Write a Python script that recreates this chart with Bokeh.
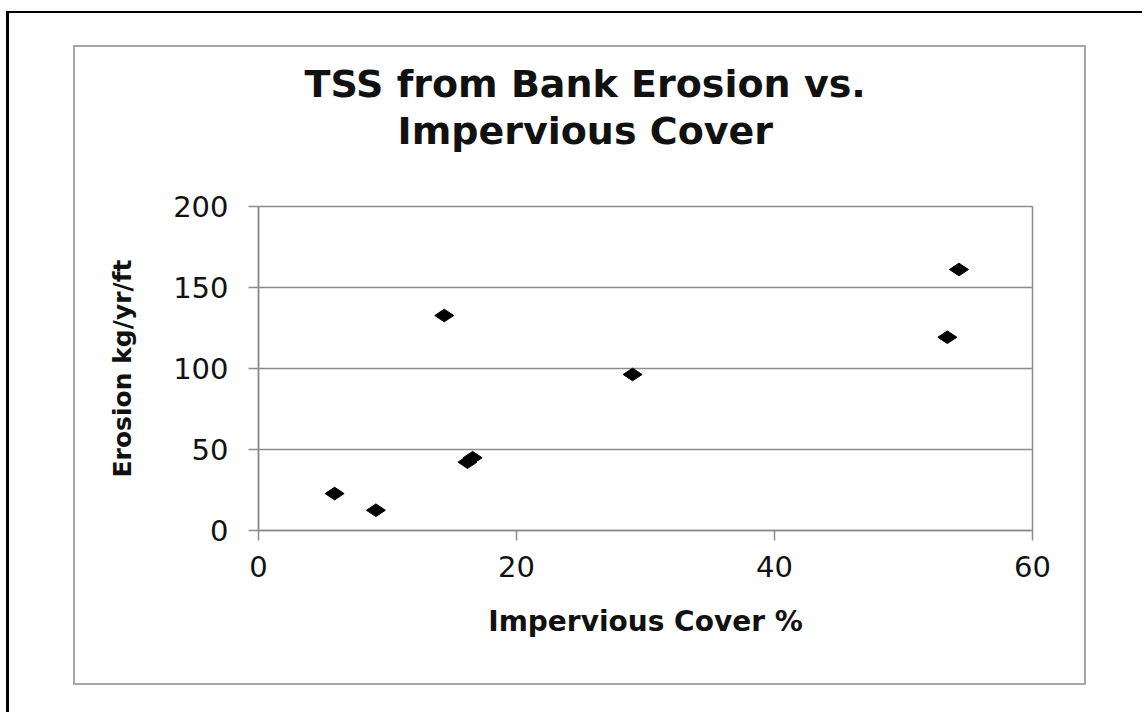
import math
from bokeh.plotting import figure
from bokeh.layouts import column
from bokeh.models import Title, FixedTicker, Range1d
from bokeh.embed import file_html
from bokeh.resources import INLINE

# ---- data ----
impervious_cover = [5.9, 9.1, 14.4, 16.2, 16.6, 29.0, 53.4, 54.3]
erosion = [22.8, 12.5, 132.7, 42.2, 44.9, 96.3, 119.3, 161.1]
x_ticks = [0, 20, 40, 60]
y_ticks = [0, 50, 100, 150, 200]
title_lines = ["TSS from Bank Erosion vs.", "Impervious Cover"]
x_label = "Impervious Cover %"
y_label = "Erosion kg/yr/ft"

GRAY = "#8c8c8c"
TXT = "#111111"

p = figure(width=1009, height=636, output_backend="svg", toolbar_location=None,
           title=None,
           x_range=Range1d(x_ticks[0], x_ticks[-1]),
           y_range=Range1d(y_ticks[0], y_ticks[-1]),
           min_border_left=183, min_border_right=52,
           min_border_top=159, min_border_bottom=153)
p.background_fill_color = "white"
p.border_fill_color = "white"
p.outline_line_color = GRAY
p.outline_line_width = 1.5

p.xaxis.ticker = FixedTicker(ticks=x_ticks)
p.yaxis.ticker = FixedTicker(ticks=y_ticks)
p.xgrid.grid_line_color = None
p.ygrid.ticker = FixedTicker(ticks=y_ticks)
p.ygrid.grid_line_color = GRAY
p.ygrid.grid_line_width = 1.5

for ax in (p.xaxis[0], p.yaxis[0]):
    ax.axis_line_color = GRAY
    ax.axis_line_width = 1.5
    ax.major_tick_line_color = GRAY
    ax.major_tick_line_width = 1.5
    ax.major_tick_out = 10
    ax.major_tick_in = 0
    ax.minor_tick_line_color = None
    ax.major_label_text_font = "DejaVu Sans"
    ax.major_label_text_font_size = "29px"
    ax.major_label_text_color = TXT
    ax.axis_label_text_font = "DejaVu Sans"
    ax.axis_label_text_font_style = "bold"
    ax.axis_label_text_color = TXT

p.xaxis.axis_label = x_label
p.xaxis.axis_label_text_font_size = "28px"
p.xaxis.major_label_standoff = 15
p.xaxis.axis_label_standoff = 25
p.yaxis.axis_label = y_label
p.yaxis.axis_label_text_font_size = "25px"
p.yaxis.major_label_standoff = 20
p.yaxis.axis_label_standoff = 33

p.scatter(impervious_cover, erosion, marker="diamond", size=19,
          angle=math.pi / 2, color="black")

# title: spacer nearest the plot area, then the two lines stacked above it
p.add_layout(Title(text=" ", text_font_size="10px", standoff=40), "above")
for txt, off in zip(reversed(title_lines), [139, 46]):
    p.add_layout(Title(text=txt, align="left", offset=off, standoff=1,
                       vertical_align="bottom",
                       text_font="DejaVu Sans", text_font_style="bold",
                       text_font_size="38px", text_color=TXT), "above")

# chart-area frame (gray) inside the page border (black, top and left)
chart_area = column(p, styles={"border": "2px solid #a6a6a6"})
page = column(chart_area, margin=(11, 0, 0, 6),
              styles={"border-top": "2px solid black",
                      "border-left": "3px solid black",
                      "padding": "32px 56px 27px 64px"})

open("out.html", "w").write(file_html(page, INLINE))
